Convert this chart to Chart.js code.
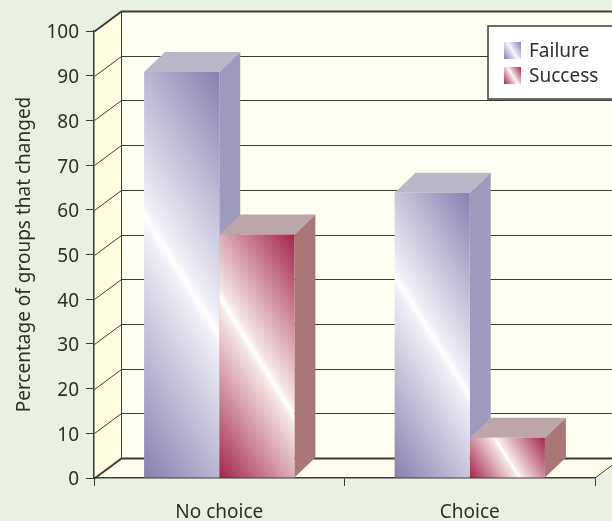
<!DOCTYPE html>
<html>
<head>
<meta charset="utf-8">
<style>
    html, body { margin: 0; background: #e9f2e0; }
    canvas { display: block; }
</style>
</head>
<body>
<canvas id="groupsCanvas" width="612" height="521"></canvas>
<script src="https://cdn.jsdelivr.net/npm/chart.js@4"></script>
<script>
let categories = ['No choice', 'Choice'];
let failureValues = [90.8, 63.8];
let successValues = [54.5, 9];
let seriesNames = ['Failure', 'Success'];

let fontName = '"Noto Sans", sans-serif';
let textColor = '#2e2e2b';
let lineColor = '#3c3c36';

// depth of the floor and walls, and of the boxes standing on it
let wallDepth = { x: 27, y: -20 };
let barDepth = { x: 21, y: -20 };

let faces = [
    { dark: '#887fb0', light: '#efeef6', side: '#9d9abd', top: '#b9b8c8' },
    { dark: '#a3234d', light: '#f5e6e4', side: '#ab7676', top: '#bda6a9' }
];

// dark corners with a thin white streak through the middle of the face
function diagonalGradient(ctx, left, top, right, bottom, face) {
    let nx = 1.6 / 1.887;
    let ny = -1 / 1.887;
    let cx = (left + right) / 2;
    let cy = (top + bottom) / 2;
    let half = (right - left) / 2 * nx - (bottom - top) / 2 * ny;
    let g = ctx.createLinearGradient(cx - nx * half, cy - ny * half, cx + nx * half, cy + ny * half);
    g.addColorStop(0, face.dark);
    g.addColorStop(0.47, face.light);
    g.addColorStop(0.5, '#ffffff');
    g.addColorStop(0.53, face.light);
    g.addColorStop(1, face.dark);
    return g;
}

function frontFill(context) {
    let chart = context.chart;
    let face = faces[context.datasetIndex];
    if (!chart.chartArea || context.raw === undefined) {
        return face.dark;
    }
    let xScale = chart.scales.x;
    let yScale = chart.scales.y;
    let barWidth = xScale.width / categories.length * 0.6 / seriesNames.length;
    let left = xScale.getPixelForValue(context.dataIndex) + (context.datasetIndex - 1) * barWidth;
    return diagonalGradient(chart.ctx, left, yScale.getPixelForValue(context.raw), left + barWidth, yScale.getPixelForValue(0), face);
}

function polygon(ctx, points, fill) {
    ctx.beginPath();
    ctx.moveTo(points[0][0], points[0][1]);
    for (let i = 1; i < points.length; i++) {
        ctx.lineTo(points[i][0], points[i][1]);
    }
    ctx.closePath();
    ctx.fillStyle = fill;
    ctx.fill();
}

let wallsPlugin = {
    id: 'walls',
    beforeDraw(chart) {
        let ctx = chart.ctx;
        let yScale = chart.scales.y;
        let left = chart.chartArea.left + 0.5;
        let right = chart.chartArea.right;
        let backLeft = left + wallDepth.x;
        let backRight = chart.width + 20;
        let top = yScale.getPixelForValue(100);
        let bottom = yScale.getPixelForValue(0);

        ctx.save();
        polygon(ctx, [[backLeft, top + wallDepth.y], [backRight, top + wallDepth.y], [backRight, bottom + wallDepth.y], [backLeft, bottom + wallDepth.y]], '#fffff2');
        polygon(ctx, [[left, top], [backLeft, top + wallDepth.y], [backLeft, bottom + wallDepth.y], [left, bottom]], '#fffcdf');
        polygon(ctx, [[left, bottom], [backLeft, bottom + wallDepth.y], [backRight, bottom + wallDepth.y], [right, bottom]], '#fffbe9');

        ctx.strokeStyle = lineColor;
        for (let v = 0; v <= 100; v += 10) {
            let y = Math.round(yScale.getPixelForValue(v)) + 0.5;
            ctx.lineWidth = (v === 0 || v === 100) ? 1.8 : 1;
            ctx.beginPath();
            ctx.moveTo(left, y);
            ctx.lineTo(backLeft, y + wallDepth.y);
            ctx.lineTo(backRight, y + wallDepth.y);
            ctx.stroke();
        }
        ctx.lineWidth = 1;
        ctx.beginPath();
        ctx.moveTo(backLeft, top + wallDepth.y);
        ctx.lineTo(backLeft, bottom + wallDepth.y);
        ctx.moveTo(right, bottom);
        ctx.lineTo(right + wallDepth.x, bottom + wallDepth.y);
        ctx.stroke();
        ctx.restore();
    },
    // side and top of each box, behind the front faces
    beforeDatasetsDraw(chart) {
        let ctx = chart.ctx;
        for (let c = 0; c < categories.length; c++) {
            for (let s = 0; s < seriesNames.length; s++) {
                let bar = chart.getDatasetMeta(s).data[c];
                let left = bar.x - bar.width / 2;
                let right = bar.x + bar.width / 2;
                polygon(ctx, [[right, bar.y], [right + barDepth.x, bar.y + barDepth.y], [right + barDepth.x, bar.base + barDepth.y], [right, bar.base]], faces[s].side);
                polygon(ctx, [[left, bar.y], [left + barDepth.x, bar.y + barDepth.y], [right + barDepth.x, bar.y + barDepth.y], [right, bar.y]], faces[s].top);
            }
        }
    },
    afterDatasetsDraw(chart) {
        let ctx = chart.ctx;
        ctx.save();
        ctx.fillStyle = '#ffffff';
        ctx.fillRect(488, 26, 130, 73);
        ctx.strokeStyle = '#3c3c38';
        ctx.lineWidth = 1.5;
        ctx.strokeRect(488, 26, 130, 73);
        ctx.font = '19px ' + fontName;
        ctx.textBaseline = 'middle';
        for (let s = 0; s < seriesNames.length; s++) {
            let y = 42 + s * 25;
            ctx.fillStyle = diagonalGradient(ctx, 504, y, 521, y + 17, faces[s]);
            ctx.fillRect(504, y, 17, 17);
            ctx.fillStyle = textColor;
            ctx.fillText(seriesNames[s], 529, y + 10);
        }
        ctx.restore();
    }
};

let myChart = new Chart(document.getElementById('groupsCanvas').getContext('2d'), {
    type: 'bar',
    plugins: [wallsPlugin],
    data: {
        labels: categories,
        datasets: [
            { label: seriesNames[0], data: failureValues, backgroundColor: frontFill },
            { label: seriesNames[1], data: successValues, backgroundColor: frontFill }
        ]
    },
    options: {
        responsive: false,
        animation: false,
        barPercentage: 1,
        categoryPercentage: 0.6,
        layout: { padding: { top: 31, right: 17 } },
        plugins: {
            legend: { display: false },
            tooltip: { enabled: false }
        },
        scales: {
            x: {
                z: 1,
                afterFit(scale) { scale.height = 43; },
                border: { color: lineColor, width: 1.5 },
                grid: { drawOnChartArea: false, tickLength: 8, tickColor: lineColor },
                ticks: { color: textColor, font: { family: fontName, size: 19 }, padding: 15, maxRotation: 0 }
            },
            y: {
                min: 0,
                max: 100,
                afterFit(scale) { scale.width = 94; },
                border: { color: lineColor, width: 1.5 },
                grid: { drawOnChartArea: false, tickLength: 8, tickColor: lineColor },
                ticks: { stepSize: 10, color: textColor, font: { family: fontName, size: 19 }, padding: 7, labelOffset: 2 },
                title: {
                    display: true,
                    text: 'Percentage of groups that changed',
                    color: textColor,
                    font: { family: fontName, size: 19 },
                    padding: { top: 13, bottom: 0 }
                }
            }
        }
    }
});
</script>
</body>
</html>
